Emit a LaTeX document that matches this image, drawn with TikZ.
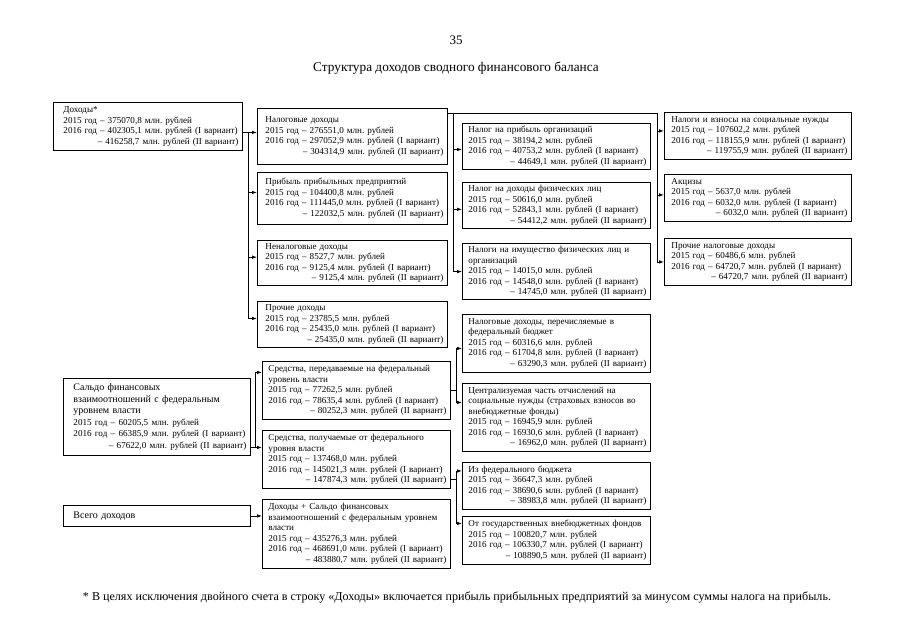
\documentclass[tikz,border=0pt]{standalone}
\usepackage{fontspec}
\setmainfont{Liberation Serif}
\usetikzlibrary{arrows.meta}
\newcommand\lastln{\hspace*{\fill}}
\newcommand\ind{\hspace*{6pt}}
\frenchspacing
\begin{document}
\frenchspacing
\begin{tikzpicture}[x=1pt,y=-1pt,
  bx/.style={draw, line width=0.9pt, anchor=north west, inner xsep=4pt, inner ysep=3pt,
             align=left, font=\fontsize{9.1}{10.5}\selectfont},
  lp/.style={execute at begin node={\leftskip=#1\relax}},
  arr/.style={-{Latex[length=5pt,width=3.6pt]}, line width=0.8pt},
  ln/.style={line width=0.8pt}]
\fill[white] (0,0) rectangle (905,640);
\useasboundingbox (0,0) rectangle (905,640);

\node[font=\fontsize{13}{15}\selectfont] (pg) at (456,40) {35};
\node[font=\fontsize{13.3}{15}\selectfont] (ttl) at (456,68) {Структура доходов сводного финансового баланса};

% column 1
\node[bx, lp=6pt, text width=181pt, minimum height=48pt] (doh) at (53,102)
 {Доходы*\\2015 год – 375070,8 млн. рублей\\2016 год – 402305,1 млн. рублей (I вариант)\\\lastln – 416258,7 млн. рублей (II вариант)};
\node[bx, text width=179pt, minimum height=77pt, font=\fontsize{10}{11.6}\selectfont] (sal) at (63,378)
 {\ind Сальдо финансовых\\\ind взаимоотношений с федеральным\\\ind уровнем власти\\\fontsize{9.1}{11.6}\selectfont\ind 2015 год – 60205,5 млн. рублей\\\ind 2016 год – 66385,9 млн. рублей (I вариант)\\\lastln – 67622,0 млн. рублей (II вариант)};
\node[bx, lp=6pt, text width=179pt, minimum height=21pt, font=\fontsize{10}{12}\selectfont] (vsg) at (63,505)
 {Всего доходов};

% column 2
\node[bx, lp=4pt, text width=182pt, minimum height=56pt] (n2a) at (257,108)
 {Налоговые доходы\\2015 год – 276551,0 млн. рублей\\2016 год – 297052,9 млн. рублей (I вариант)\\\lastln – 304314,9 млн. рублей (II вариант)};
\node[bx, lp=4pt, text width=182pt, minimum height=52pt] (n2b) at (257,172)
 {Прибыль прибыльных предприятий\\2015 год – 104400,8 млн. рублей\\2016 год – 111445,0 млн. рублей (I вариант)\\\lastln – 122032,5 млн. рублей (II вариант)};
\node[bx, lp=4pt, text width=182pt, minimum height=45pt] (n2c) at (257,240)
 {Неналоговые доходы\\2015 год – 8527,7 млн. рублей\\2016 год – 9125,4 млн. рублей (I вариант)\\\lastln – 9125,4 млн. рублей (II вариант)};
\node[bx, lp=4pt, text width=182pt, minimum height=46pt] (n2d) at (257,301)
 {Прочие доходы\\2015 год – 23785,5 млн. рублей\\2016 год – 25435,0 млн. рублей (I вариант)\\\lastln – 25435,0 млн. рублей (II вариант)};
\node[bx, lp=2pt, text width=180pt, minimum height=58pt] (n2e) at (262,361)
 {Средства, передаваемые на федеральный\\уровень власти\\2015 год – 77262,5 млн. рублей\\2016 год – 78635,4 млн. рублей (I вариант)\\\lastln – 80252,3 млн. рублей (II вариант)};
\node[bx, lp=2pt, text width=180pt, minimum height=58pt] (n2f) at (262,430)
 {Средства, получаемые от федерального\\уровня власти\\2015 год – 137468,0 млн. рублей\\2016 год – 145021,3 млн. рублей (I вариант)\\\lastln – 147874,3 млн. рублей (II вариант)};
\node[bx, lp=2pt, text width=180pt, minimum height=69pt] (n2g) at (262,499)
 {Доходы + Сальдо финансовых\\взаимоотношений с федеральным уровнем\\власти\\2015 год – 435276,3 млн. рублей\\2016 год – 468691,0 млн. рублей (I вариант)\\\lastln – 483880,7 млн. рублей (II вариант)};

% column 3
\node[bx, lp=2pt, text width=180pt, minimum height=45pt] (n3a) at (462,123)
 {Налог на прибыль организаций\\2015 год – 38194,2 млн. рублей\\2016 год – 40753,2 млн. рублей (I вариант)\\\lastln – 44649,1 млн. рублей (II вариант)};
\node[bx, lp=2pt, text width=180pt, minimum height=45pt] (n3b) at (462,182)
 {Налог на доходы физических лиц\\2015 год – 50616,0 млн. рублей\\2016 год – 52843,1 млн. рублей (I вариант)\\\lastln – 54412,2 млн. рублей (II вариант)};
\node[bx, lp=2pt, text width=180pt, minimum height=55pt] (n3c) at (462,243)
 {Налоги на имущество физических лиц и\\организаций\\2015 год – 14015,0 млн. рублей\\2016 год – 14548,0 млн. рублей (I вариант)\\\lastln – 14745,0 млн. рублей (II вариант)};
\node[bx, lp=2pt, text width=180pt, minimum height=58pt] (n3d) at (462,314)
 {Налоговые доходы, перечисляемые в\\федеральный бюджет\\2015 год – 60316,6 млн. рублей\\2016 год – 61704,8 млн. рублей (I вариант)\\\lastln – 63290,3 млн. рублей (II вариант)};
\node[bx, lp=2pt, text width=180pt, minimum height=68pt] (n3e) at (462,383)
 {Централизуемая часть отчислений на\\социальные нужды (страховых взносов во\\внебюджетные фонды)\\2015 год – 16945,9 млн. рублей\\2016 год – 16930,6 млн. рублей (I вариант)\\\lastln – 16962,0 млн. рублей (II вариант)};
\node[bx, lp=2pt, text width=180pt, minimum height=47pt] (n3f) at (462,462)
 {Из федерального бюджета\\2015 год – 36647,3 млн. рублей\\2016 год – 38690,6 млн. рублей (I вариант)\\\lastln – 38983,8 млн. рублей (II вариант)};
\node[bx, lp=2pt, text width=180pt, minimum height=48pt] (n3g) at (462,516)
 {От государственных внебюджетных фондов\\2015 год – 100820,7 млн. рублей\\2016 год – 106330,7 млн. рублей (I вариант)\\\lastln – 108890,5 млн. рублей (II вариант)};

% column 4
\node[bx, lp=3pt, text width=179pt, minimum height=47pt] (n4a) at (664,112)
 {Налоги и взносы на социальные нужды\\2015 год – 107602,2 млн. рублей\\2016 год – 118155,9 млн. рублей (I вариант)\\\lastln – 119755,9 млн. рублей (II вариант)};
\node[bx, lp=3pt, text width=179pt, minimum height=47pt] (n4b) at (664,174)
 {Акцизы\\2015 год – 5637,0 млн. рублей\\2016 год – 6032,0 млн. рублей (I вариант)\\\lastln – 6032,0 млн. рублей (II вариант)};
\node[bx, lp=3pt, text width=179pt, minimum height=47pt] (n4c) at (664,238)
 {Прочие налоговые доходы\\2015 год – 60486,6 млн. рублей\\2016 год – 64720,7 млн. рублей (I вариант)\\\lastln – 64720,7 млн. рублей (II вариант)};

% footnote
\node[font=\fontsize{12.1}{14}\selectfont] (fn) at (457,597)
 {* В целях исключения двойного счета в строку «Доходы» включается прибыль прибыльных предприятий за минусом суммы налога на прибыль.};

% trunk positions
\coordinate (t1) at (248,0);
\coordinate (t2) at (255,0);
\coordinate (t3) at (453,0);
\coordinate (t4) at (657,0);
\coordinate (t5) at (456,0);

% arrow targets
\coordinate (a2a) at ([yshift=4pt]n2a.west);
\coordinate (a2b) at ([yshift=6pt]n2b.west);
\coordinate (a2c) at ([yshift=6pt]n2c.west);
\coordinate (a2d) at ([yshift=6pt]n2d.west);
\coordinate (a3a) at ([yshift=-3pt]n3a.west);
\coordinate (a3b) at ([yshift=-4pt]n3b.west);
\coordinate (a3c) at (n3c.west);
\coordinate (a4a) at ([yshift=5pt]n4a.west);
\coordinate (a4b) at ([yshift=3pt]n4b.west);
\coordinate (a4c) at (n4c.west);
\coordinate (a2e) at ([yshift=18pt]n2e.west);
\coordinate (a2f) at ([yshift=12pt]n2f.west);
\coordinate (a3d) at ([yshift=-5pt]n3d.west);
\coordinate (a3e) at ([yshift=15pt]n3e.west);
\coordinate (a3f) at ([yshift=15pt]n3f.west);
\coordinate (a3g) at ([yshift=17pt]n3g.west);
\coordinate (h) at ([yshift=-5pt]n2a.north east);
\coordinate (e2f) at ([yshift=-20pt]n2f.east);

% Доходы -> column 2
\draw[arr] (doh.east |- a2a) -- (a2a);
\draw[ln] (a2a -| t1) -- (a2d -| t1);
\draw[arr] (a2b -| t1) -- (a2b);
\draw[arr] (a2c -| t1) -- (a2c);
\draw[arr] (a2d -| t1) -- (a2d);

% Налоговые доходы -> columns 3 and 4
\draw[ln] (h) -- (h -| t4);
\draw[arr] (h -| t3) -- (a3c -| t3) -- (a3c);
\draw[arr] (a3a -| t3) -- (a3a);
\draw[arr] (a3b -| t3) -- (a3b);
\draw[arr] (h -| t4) -- (a4c -| t4) -- (a4c);
\draw[arr] (a4a -| t4) -- (a4a);
\draw[arr] (a4b -| t4) -- (a4b);

% Сальдо -> средства
\draw[arr] (sal.east |- a2f) -- (a2f);
\draw[arr] (a2f -| t2) -- (a2e -| t2) -- (a2e);

% Средства передаваемые -> column 3
\draw[ln] (n2e.east) -- (n2e.east -| t5);
\draw[arr] (a3e -| t5) -- (a3d -| t5) -- (a3d);
\draw[arr] (a3e -| t5) -- (a3e);

% Средства получаемые -> column 3
\draw[ln] (e2f) -- (e2f -| t5);
\draw[arr] (a3g -| t5) -- (a3f -| t5) -- (a3f);
\draw[arr] (a3g -| t5) -- (a3g);

% Всего доходов -> Доходы + Сальдо
\draw[arr] (vsg.east) -- (vsg.east -| n2g.west);
\end{tikzpicture}
\end{document}
